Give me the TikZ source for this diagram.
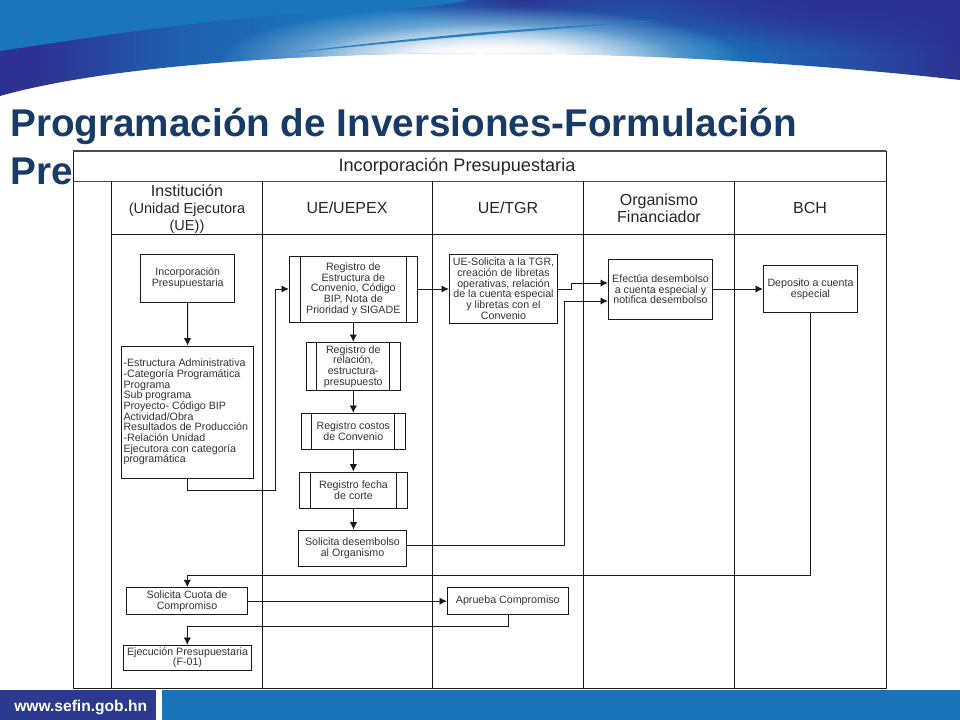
\documentclass[tikz,border=0pt]{standalone}
\usepackage{fontspec}
\setmainfont{Liberation Sans}
\usetikzlibrary{arrows.meta,fadings,calc}
\definecolor{titleblue}{HTML}{173B66}
\definecolor{footblue}{HTML}{1B72B8}
\definecolor{footnavy}{HTML}{2B3A8F}
\definecolor{bandmid}{HTML}{1A75BC}
\definecolor{bandinner}{HTML}{1F5FAE}
\definecolor{bandnavy}{HTML}{2D3192}
\definecolor{stripeblue}{HTML}{2F80C0}
\pgfdeclarehorizontalshading{bannerbase}{100bp}{%
  color(0bp)=(bandnavy); color(27bp)=(bandnavy); color(34bp)=(bandinner);
  color(42bp)=(bandmid); color(62bp)=(bandmid); color(75bp)=(bandnavy); color(100bp)=(bandnavy)}
\tikzfading[name=glowfade, inner color=transparent!0, outer color=transparent!100]
\tikzset{
  x=0.75pt, y=-0.75pt,
  frame/.style={draw=black!70, line width=0.9pt},
  laneline/.style={draw=black!90, line width=0.7pt},
  flow/.style={draw=black!90, line width=0.7pt},
  arrow/.style={flow, -{Latex[length=5.5pt,width=5.5pt]}},
  boxstyle/.style={draw=black!90, line width=0.7pt, fill=white, inner sep=0pt, align=center, font=\fontsize{8}{8}\selectfont, text=black!80},
  headstyle/.style={inner sep=0pt, align=center, font=\fontsize{12}{12.5}\selectfont, text=black!85},
  inner/.style={draw=black!90, line width=0.7pt},
}
% \bx{name}{x1}{y1}{x2}{y2}{text}
\newcommand{\bx}[6]{%
  \pgfmathsetmacro{\cxx}{(#2+#4)/2}\pgfmathsetmacro{\cyy}{(#3+#5)/2}%
  \pgfmathsetmacro{\www}{(#4-#2)*0.75}\pgfmathsetmacro{\hhh}{(#5-#3)*0.75}%
  \node[boxstyle, minimum width=\www pt, minimum height=\hhh pt] (#1) at (\cxx,\cyy) {#6};}
% inner bars of a predefined-process box, offset in px
\newcommand{\bars}[2]{%
  \draw[inner] ([xshift=#2*0.75pt]#1.north west) -- ([xshift=#2*0.75pt]#1.south west);
  \draw[inner] ([xshift=-#2*0.75pt]#1.north east) -- ([xshift=-#2*0.75pt]#1.south east);}
\begin{document}
\begin{tikzpicture}
\useasboundingbox (0,0) rectangle (960,720);
\fill[white] (0,0) rectangle (960,720);
% banner
\begin{scope}
\clip (0,0) -- (960,0) -- (960,80) .. controls (800,62) and (620,53) .. (480,53)
      .. controls (340,53) and (120,62) .. (0,96) -- cycle;
\shade[shading=bannerbase] (0,0) rectangle (960,100);
\fill[bandnavy, path fading=glowfade] (860,-5) ellipse (380 and 60);
\fill[bandnavy, path fading=glowfade] (860,-5) ellipse (330 and 50);
\fill[bandnavy, path fading=glowfade] (520,-2) ellipse (140 and 30);
\fill[white, path fading=glowfade] (480,58) ellipse (260 and 52);
\fill[white, path fading=glowfade] (490,58) ellipse (190 and 34);
\fill[white, path fading=glowfade] (500,58) ellipse (120 and 22);
\fill[white, opacity=0.5] (30,93) .. controls (120,72) and (200,66) .. (320,58) -- (320,62) -- (30,100) -- cycle;
\fill[bandmid] (0,51) .. controls (100,36) and (200,20) .. (300,14) .. controls (380,10) and (440,8) .. (467,0) -- (0,0) -- cycle;
\fill[stripeblue] (290,53) .. controls (340,46) and (420,38) .. (480,32.5) .. controls (540,28) and (600,24) .. (660,20)
      .. controls (600,26) and (540,30) .. (480,35) .. controls (420,40) and (340,48) .. (290,53) -- cycle;
\end{scope}
% title
\node[anchor=base west, inner sep=0pt, text=titleblue, font=\fontsize{29}{29}\bfseries\selectfont] (title1) at (10,137) {Programación de Inversiones-Formulación};
\node[anchor=base west, inner sep=0pt, text=titleblue, font=\fontsize{29}{29}\bfseries\selectfont] (title2) at (10,185) {Pre};
% footer
\fill[footblue] (0,690) rectangle (960,720);
\fill[footnavy] (0,690) rectangle (156,720);
\fill[white] (156,690) rectangle (162,720);
\node[anchor=base west, inner sep=0pt, text=white, font=\fontsize{11.7}{13}\bfseries\selectfont] (web) at (14,711) {www.sefin.gob.hn};
% table
\fill[white] (73,151) rectangle (886,688);
\draw[laneline] (73,151) rectangle (886,688);
\draw[frame] (73,151) -- (886,151);
\draw[frame] (73,181.5) -- (886,181.5);
\draw[laneline] (111,234) -- (886,234);
\foreach \xx in {111,262,432,583,734} \draw[laneline] (\xx,181.5) -- (\xx,688);
\node[headstyle, font=\fontsize{13.6}{14}\selectfont] (htitle) at (457,167) {Incorporación Presupuestaria};
\node[headstyle, font=\fontsize{12}{13}\selectfont] (h1) at (187,209) {Institución\\{\fontsize{10.9}{13}\selectfont (Unidad Ejecutora}\\{\fontsize{10.9}{13}\selectfont (UE))}};
\node[headstyle] (h2) at (347,208) {UE/UEPEX};
\node[headstyle] (h3) at (508,208) {UE/TGR};
\node[headstyle] (h4) at (659,208) {Organismo\\Financiador};
\node[headstyle] (h5) at (810,208) {BCH};
% boxes
\bx{inc}{140.7}{254.3}{234.7}{302.3}{Incorporación\\Presupuestaria}
\bx{est}{121.3}{346}{253.7}{478}{\begin{minipage}{96pt}\raggedright -Estructura Administrativa\\-Categoría Programática\\Programa\\Sub programa\\Proyecto- Código BIP\\Actividad/Obra\\Resultados de Producción\\-Relación Unidad\\Ejecutora con categoría\\programática\end{minipage}}
\bx{reg}{289.3}{256}{417.3}{322}{Registro de\\Estructura de\\Convenio, Código\\BIP, Nota de\\Prioridad y SIGADE}
\bars{reg}{11.2}
\bx{rel}{306.3}{342.3}{400.3}{390.3}{Registro de\\relación,\\estructura-\\presupuesto}
\bars{rel}{11}
\bx{cos}{301.3}{413.3}{405.3}{449.3}{Registro costos\\de Convenio}
\bars{cos}{11}
\bx{fec}{299.3}{472}{407.7}{508}{Registro fecha\\de corte}
\bars{fec}{11.3}
\bx{sol}{298.3}{530}{406.7}{566.3}{Solicita desembolso\\al Organismo}
\bx{tgr}{449.3}{254.3}{557.7}{323.3}{UE-Solicita a la TGR,\\creación de libretas\\operativas, relación\\de la cuenta especial\\y libretas con el\\Convenio}
\bx{efe}{608.3}{259.3}{712.7}{319.3}{Efectúa desembolso\\a cuenta especial y\\notifica desembolso}
\bx{dep}{763.3}{265.3}{857.7}{312.7}{Deposito a cuenta\\especial}
\bx{cuo}{126.3}{587.7}{247.7}{614.7}{Solicita Cuota de\\Compromiso}
\bx{apr}{447.3}{587.7}{568.3}{614.7}{Aprueba Compromiso}
\bx{eje}{123.3}{645.3}{251.7}{670.3}{Ejecución Presupuestaria\\(F-01)}
% waypoints
\coordinate (w1) at (275.3,490.3);
\coordinate (w2) at (564.7,301);
\coordinate (w3) at (571.7,283);
\coordinate (w4) at (810.3,575.3);
\coordinate (w5) at (508.7,626);
\coordinate (w6) at (187.3,575.3);
\coordinate (w7) at (187.3,626);
\coordinate (w8) at (564.7,545.3);
% connectors
\draw[arrow] (inc.south) -- (est.north);
\draw[arrow] (est.south) |- (w1) |- (reg.west);
\draw[arrow] (reg.east) -- (tgr.west |- reg.east);
\draw[arrow] (reg.south) -- (rel.north);
\draw[arrow] (rel.south) -- (rel.south |- cos.north);
\draw[arrow] (cos.south) -- (cos.south |- fec.north);
\draw[arrow] (fec.south) -- (fec.south |- sol.north);
\draw[arrow] (sol.east |- w8) -- (w8) -- (w2) -- (efe.west |- w2);
\draw[arrow] (tgr.east |- reg.east) -| (w3) -- (efe.west |- w3);
\draw[arrow] (efe.east |- reg.east) -- (dep.west |- reg.east);
\draw[arrow] (dep.south -| w4) -- (w4) -- (w6) -- (cuo.north -| w6);
\draw[arrow] (cuo.east) -- (apr.west);
\draw[arrow] (apr.south -| w5) -- (w5) -- (w7) -- (eje.north -| w7);
\end{tikzpicture}
\end{document}
